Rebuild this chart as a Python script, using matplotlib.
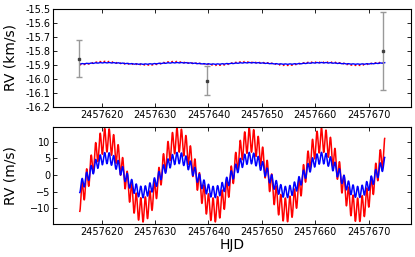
import numpy as np
import matplotlib
matplotlib.use('Agg')
import matplotlib.pyplot as plt
from matplotlib.ticker import FormatStrFormatter

# observed RVs (HJD, km/s, error)
obs_t = [2457615.8, 2457639.8, 2457672.7]
obs_rv = [-15.855, -16.012, -15.800]
obs_err = [0.131, 0.101, 0.279]

# model parameters (m/s, days)
rv_offset = -15.889
t_start, t_end = 2457615.9, 2457673.0
long_period, long_peak = 13.45, 2457620.9
fast_period = 0.846
red_amps = [10.5, 3.6]    # long, fast semi-amplitude
blue_amps = [5.1, 1.7]

t = np.linspace(t_start, t_end, 4000)

def model(amps):
    return (amps[0] * np.cos(2 * np.pi * (t - long_peak) / long_period)
            + amps[1] * np.cos(2 * np.pi * (t - t_start) / fast_period + np.pi))

red = model(red_amps)
blue = model(blue_amps)

plt.rcParams['xtick.direction'] = 'in'
plt.rcParams['ytick.direction'] = 'in'
plt.rcParams['xtick.top'] = True
plt.rcParams['ytick.right'] = True
plt.rcParams['font.size'] = 7

fig = plt.figure(figsize=(4.15, 2.57), dpi=100)
ax1 = fig.add_axes([0.128, 0.584, 0.862, 0.381])
ax2 = fig.add_axes([0.128, 0.128, 0.862, 0.378])

# top panel, km/s
ax1.plot(t, rv_offset + red / 1000., color='red', ls=':', lw=1.2)
ax1.plot(t, rv_offset + blue / 1000., color='blue', lw=1.0)
ax1.errorbar(obs_t, obs_rv, yerr=obs_err, fmt='s', ms=2, color='0.25',
             ecolor='0.6', elinewidth=1, capsize=2)
ax1.set_ylim(-16.2, -15.5)
ax1.set_yticks(np.arange(-16.2, -15.45, 0.1))
ax1.yaxis.set_major_formatter(FormatStrFormatter('%.1f'))
ax1.set_ylabel('RV (km/s)', fontsize=10)

# bottom panel, m/s
ax2.plot(t, red, color='red', lw=1.1)
ax2.plot(t, blue, color='blue', lw=1.1)
ax2.set_ylim(-14.7, 14.4)
ax2.set_yticks([-10, -5, 0, 5, 10])
ax2.set_ylabel('RV (m/s)', fontsize=10)
ax2.set_xlabel('HJD', fontsize=10, labelpad=1)

for ax in (ax1, ax2):
    ax.set_xlim(2457610.9, 2457677.9)
    ax.set_xticks(np.arange(2457620, 2457671, 10))
    ax.xaxis.set_major_formatter(FormatStrFormatter('%d'))
    ax.tick_params(length=3, width=0.6, pad=2)

ax1.yaxis.set_label_coords(-0.1, 0.5)
ax2.yaxis.set_label_coords(-0.1, 0.5)

fig.savefig('out.png', dpi=100)
